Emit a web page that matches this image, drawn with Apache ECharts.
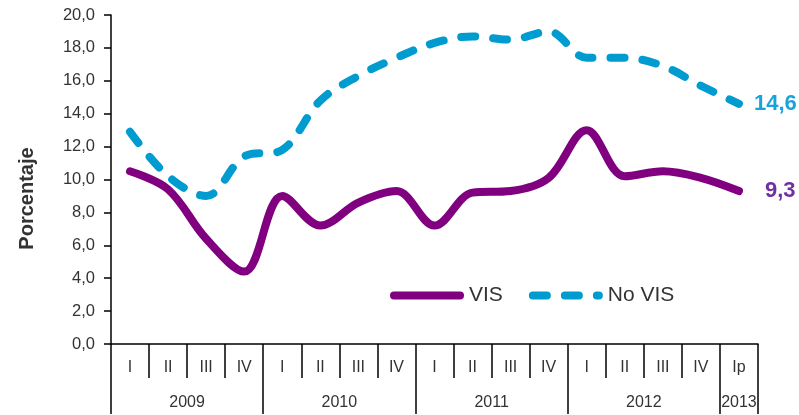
<!DOCTYPE html>
<html>
<head>
<meta charset="utf-8">
<script src="https://cdn.jsdelivr.net/npm/echarts@6/dist/echarts.min.js"></script>
<style>html,body{margin:0;padding:0;background:#fff}#c{width:799px;height:415px}</style>
</head>
<body>
<div id="c"></div>
<script>
var quarters = ['I','II','III','IV','I','II','III','IV','I','II','III','IV','I','II','III','IV','Ip'];
var years = ['2009','2010','2011','2012','2013'];
var yearCenters = [2, 6, 10, 14, 16.5];
var yearBounds = [0, 4, 8, 12, 16, 17];
var visValues = [10.5, 9.4, 6.4, 4.4, 9.0, 7.2, 8.6, 9.3, 7.2, 9.2, 9.3, 10.1, 13.0, 10.2, 10.5, 10.1, 9.3];
var noVisValues = [12.9, 10.2, 9.0, 11.4, 11.8, 14.8, 16.3, 17.4, 18.3, 18.7, 18.5, 19.0, 17.4, 17.4, 16.9, 15.7, 14.6];

function fmt(v){ return v.toFixed(1).replace('.', ','); }

var chart = echarts.init(document.getElementById('c'), null, {renderer:'canvas'});
var axisFont = 'Liberation Sans';
chart.setOption({
  animation: false,
  grid: {left: 111, right: 41, top: 15, bottom: 71, containLabel: false},
  legend: {
    left: 385, top: 280, itemWidth: 66, itemHeight: 16, itemGap: 26,
    itemStyle: {opacity: 0},
    lineStyle: {width: 8, cap: 'round'},
    textStyle: {fontFamily: 'Liberation Sans', fontSize: 21, color: '#333', padding: [0, 0, 0, 4]},
    data: ['VIS', 'No VIS']
  },
  xAxis: [{
    type: 'category', data: quarters, position: 'bottom',
    axisLine: {show: true, lineStyle: {color: '#000', width: 1.5}},
    axisTick: {show: true, interval: 0, length: 34, lineStyle: {color: '#000', width: 1.5}},
    axisLabel: {interval: 0, margin: 16, color: '#333', fontFamily: axisFont, fontSize: 16}
  }, {
    type: 'value', min: 0, max: 17, position: 'bottom',
    axisLine: {show: false},
    splitLine: {show: false},
    axisTick: {show: true, customValues: yearBounds, length: 70, lineStyle: {color: '#000', width: 1.5}},
    axisLabel: {customValues: yearCenters, margin: 51, color: '#333', fontFamily: axisFont, fontSize: 16,
      formatter: function(v){ var i = yearCenters.indexOf(v); return i >= 0 ? years[i] : ''; }}
  }],
  yAxis: {
    type: 'value', min: 0, max: 20, interval: 2,
    name: 'Porcentaje', nameLocation: 'middle', nameGap: 74, nameRotate: 90,
    nameTextStyle: {fontFamily: 'Liberation Sans', fontWeight: 'bold', fontSize: 20, color: '#333', padding: [0, 38, 0, 0]},
    axisLine: {show: true, lineStyle: {color: '#000', width: 1.5}},
    axisTick: {show: true, length: 7, lineStyle: {color: '#000', width: 1.5}},
    splitLine: {show: false},
    axisLabel: {margin: 16, color: '#333', fontFamily: axisFont, fontSize: 16.5, formatter: function(v){ return fmt(v); }}
  },
  series: [{
    name: 'VIS', type: 'line', data: visValues, smooth: 0.35, symbol: 'none', xAxisIndex: 0,
    color: '#800080',
    lineStyle: {color: '#800080', width: 8, cap: 'round', join: 'round'},
    endLabel: {show: true, distance: 26, formatter: function(p){ return fmt(p.value); },
      color: '#7030A0', fontFamily: 'Liberation Sans', fontWeight: 'bold', fontSize: 22}
  }, {
    name: 'No VIS', type: 'line', data: noVisValues, smooth: 0.35, symbol: 'none', xAxisIndex: 0,
    color: '#009CCF',
    lineStyle: {color: '#009CCF', width: 8, type: [14, 18], cap: 'round', join: 'round'},
    endLabel: {show: true, distance: 15, formatter: function(p){ return fmt(p.value); },
      color: '#18A3DD', fontFamily: 'Liberation Sans', fontWeight: 'bold', fontSize: 22}
  }]
});
</script>
</body>
</html>
